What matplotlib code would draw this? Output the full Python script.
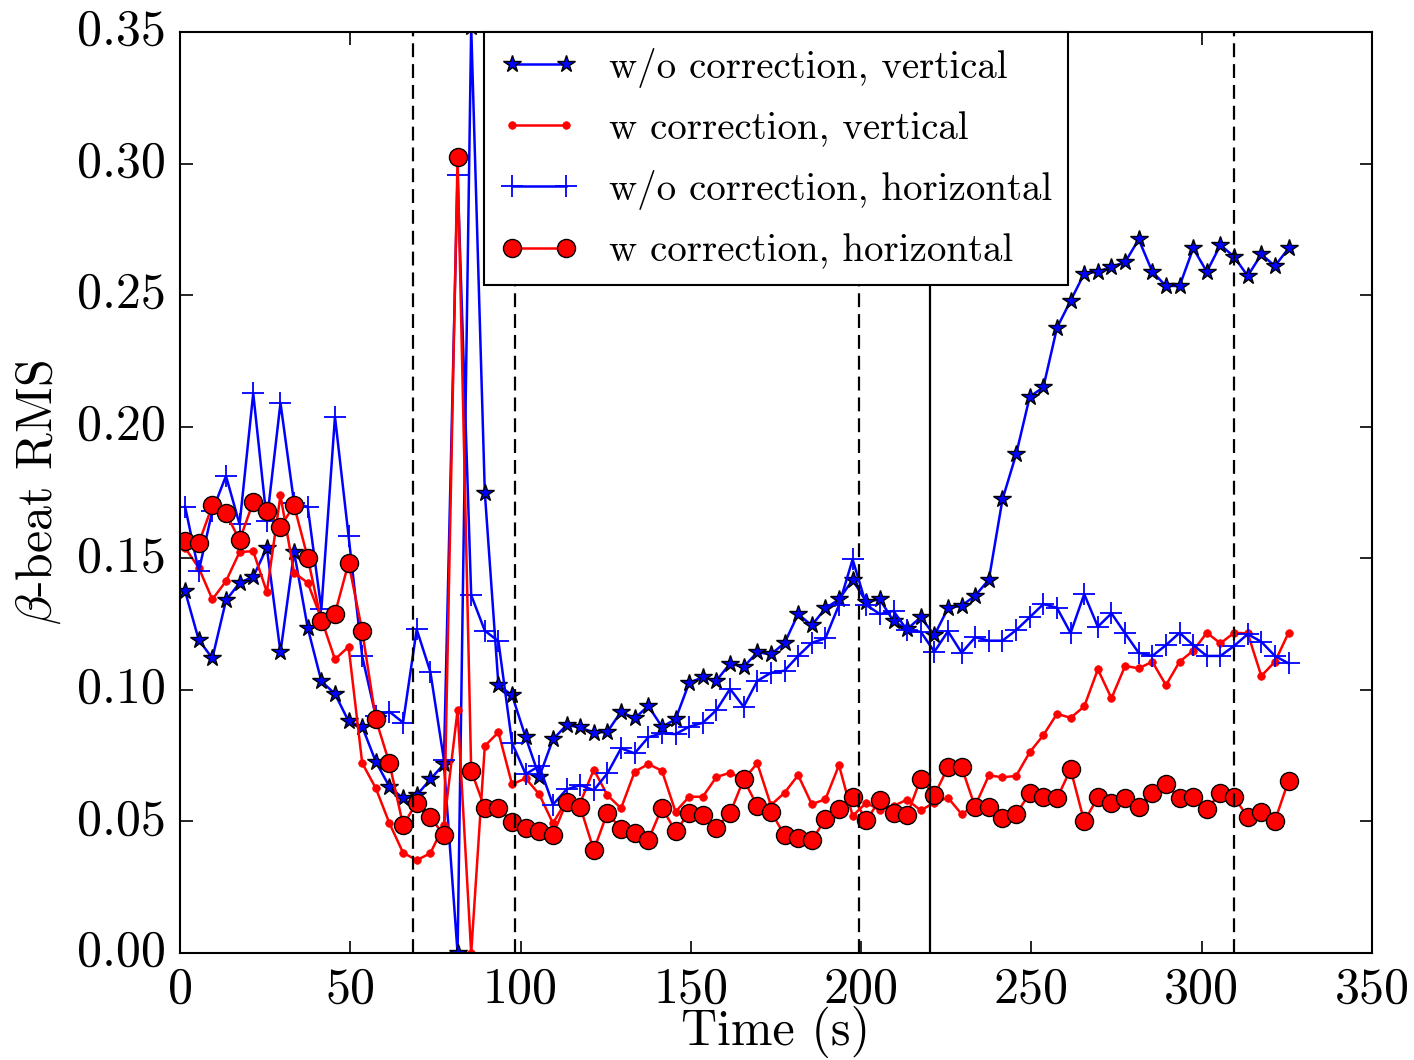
import numpy as np
import matplotlib
matplotlib.use('Agg')
import matplotlib.pyplot as plt

plt.style.use('classic')
plt.rcParams.update({
    'font.family': 'serif',
    'font.serif': ['cmr10', 'DejaVu Serif'],
    'mathtext.fontset': 'cm',
    'axes.unicode_minus': False,
    'figure.facecolor': 'white',
    'savefig.facecolor': 'white',
})

# sample times (s): one orbit measurement every ~4 s
t = 1.5 + 4.0 * np.arange(82)

vert_wo = [0.1375, 0.119, 0.112, 0.134, 0.1407, 0.143, 0.154, 0.1143, 0.1524, 0.1236,
           0.1033, 0.0985, 0.0881, 0.086, 0.0727, 0.0632, 0.0588, 0.060, 0.066, 0.0718,
           0.0, 0.352, 0.175, 0.1018, 0.098, 0.082, 0.067, 0.0812, 0.0866, 0.0858,
           0.0837, 0.0841, 0.0917, 0.0892, 0.0939, 0.086, 0.0888, 0.1027, 0.1048, 0.1035,
           0.110, 0.1087, 0.1143, 0.1135, 0.1178, 0.1288, 0.1245, 0.131, 0.1344, 0.1418,
           0.1335, 0.1344, 0.1261, 0.1231, 0.1276, 0.1208, 0.131, 0.132, 0.1358, 0.1419,
           0.1724, 0.1895, 0.2114, 0.215, 0.2376, 0.2479, 0.2582, 0.2589, 0.2608, 0.2625,
           0.2712, 0.2589, 0.2535, 0.2535, 0.2678, 0.2589, 0.2691, 0.2646, 0.2573, 0.2655,
           0.2611, 0.2678]

vert_w = [0.154, 0.1464, 0.1344, 0.1413, 0.1524, 0.1527, 0.1372, 0.1739, 0.1445, 0.1407,
          0.127, 0.1116, 0.1164, 0.0722, 0.0626, 0.0493, 0.0381, 0.0353, 0.0379, 0.0486,
          0.0923, 0.0, 0.0787, 0.0839, 0.0641, 0.0664, 0.0603, 0.0493, 0.058, 0.057,
          0.0697, 0.060, 0.055, 0.0689, 0.0718, 0.0693, 0.0537, 0.0594, 0.0594, 0.0669,
          0.0685, 0.066, 0.0721, 0.0562, 0.0609, 0.0676, 0.0566, 0.0584, 0.0714, 0.0521,
          0.0571, 0.0543, 0.0559, 0.0583, 0.0542, 0.0572, 0.059, 0.0528, 0.056, 0.0675,
          0.0668, 0.0673, 0.0763, 0.0828, 0.0909, 0.0894, 0.0937, 0.1078, 0.0968, 0.1091,
          0.1082, 0.1107, 0.1018, 0.1107, 0.1149, 0.1217, 0.1177, 0.1217, 0.1215, 0.1053,
          0.1107, 0.1217]

horiz_wo = [0.1696, 0.1451, 0.168, 0.1813, 0.1629, 0.2127, 0.1641, 0.2091, 0.171, 0.1696,
            0.1306, 0.2038, 0.1584, 0.1127, 0.090, 0.0917, 0.0876, 0.123, 0.1069, 0.0733,
            0.2957, 0.136, 0.1225, 0.1185, 0.0798, 0.068, 0.0711, 0.0564, 0.0622, 0.0638,
            0.0619, 0.0683, 0.0778, 0.0759, 0.082, 0.0835, 0.0832, 0.086, 0.0875, 0.0923,
            0.1004, 0.0936, 0.1034, 0.1065, 0.1073, 0.1129, 0.1179, 0.1196, 0.1323, 0.1496,
            0.1323, 0.1288, 0.130, 0.1227, 0.1221, 0.1145, 0.1223, 0.1141, 0.120, 0.1187,
            0.1187, 0.1227, 0.1276, 0.1326, 0.1312, 0.1216, 0.1364, 0.124, 0.1291, 0.1215,
            0.1141, 0.1129, 0.117, 0.1217, 0.117, 0.1129, 0.1129, 0.1167, 0.1212, 0.1183,
            0.1129, 0.1101]

horiz_w = [0.1565, 0.1557, 0.1701, 0.1671, 0.1569, 0.1714, 0.168, 0.162, 0.1701, 0.1502,
           0.1261, 0.129, 0.1483, 0.1224, 0.0888, 0.0721, 0.0486, 0.0571, 0.0516, 0.0448,
           0.3025, 0.0693, 0.055, 0.055, 0.0499, 0.0477, 0.0465, 0.0448, 0.0574, 0.0556,
           0.0391, 0.0534, 0.047, 0.0455, 0.0429, 0.0552, 0.0463, 0.0533, 0.0526, 0.0477,
           0.0531, 0.066, 0.0559, 0.0537, 0.0448, 0.0436, 0.0429, 0.0508, 0.0546, 0.0594,
           0.0505, 0.0581, 0.0531, 0.0524, 0.0663, 0.060, 0.0706, 0.0706, 0.0554, 0.0554,
           0.0514, 0.0528, 0.0607, 0.0594, 0.0588, 0.0698, 0.050, 0.0592, 0.0571, 0.0588,
           0.0556, 0.0609, 0.0642, 0.0588, 0.0594, 0.0546, 0.0609, 0.0594, 0.0516, 0.0537,
           0.0503, 0.0655]

dashed_times = [68.5, 98.5, 199.5, 309.5]
solid_time = 220.2

fig = plt.figure(figsize=(14.14, 10.6), dpi=100)
ax = fig.add_axes([0.1273, 0.1009, 0.8430, 0.8689])

ax.plot(t, vert_wo, '-', color='b', lw=1.8, marker='*', ms=13, mfc='b', mec='k', mew=1.0,
        label='w/o correction, vertical')
ax.plot(t, vert_w, '-', color='r', lw=1.8, marker='o', ms=5.5, mfc='r', mec='r',
        label='w correction, vertical')
ax.plot(t, horiz_wo, '-', color='b', lw=1.8, marker='+', ms=16, mew=1.3, mec='b',
        label='w/o correction, horizontal')
ax.plot(t, horiz_w, '-', color='r', lw=1.8, marker='o', ms=13, mfc='r', mec='k', mew=1.0,
        label='w correction, horizontal')

for xv in dashed_times:
    ax.axvline(xv, color='k', lw=1.6, linestyle=(0, (10, 5)))
ax.axvline(solid_time, color='k', lw=1.6)

ax.set_xlim(0, 350)
ax.set_ylim(0, 0.35)
ax.set_xticks(np.arange(0, 351, 50))
ax.set_yticks(np.arange(0, 0.351, 0.05))
ax.yaxis.set_major_formatter(matplotlib.ticker.FormatStrFormatter('%.2f'))
ax.tick_params(labelsize=36, length=9, width=1.2, direction='in', pad=10)
for s in ax.spines.values():
    s.set_linewidth(1.5)

ax.set_xlabel('Time (s)', fontsize=36, labelpad=-5)
ax.set_ylabel(r'$\beta$-beat RMS', fontsize=36, labelpad=10)

leg = ax.legend(loc='upper center', fontsize=28, numpoints=2, fancybox=False,
                frameon=True, borderaxespad=0.0, handlelength=2.0, labelspacing=0.6)
leg.get_frame().set_edgecolor('k')
leg.get_frame().set_linewidth(1.5)

fig.savefig('out.png', dpi=100)
